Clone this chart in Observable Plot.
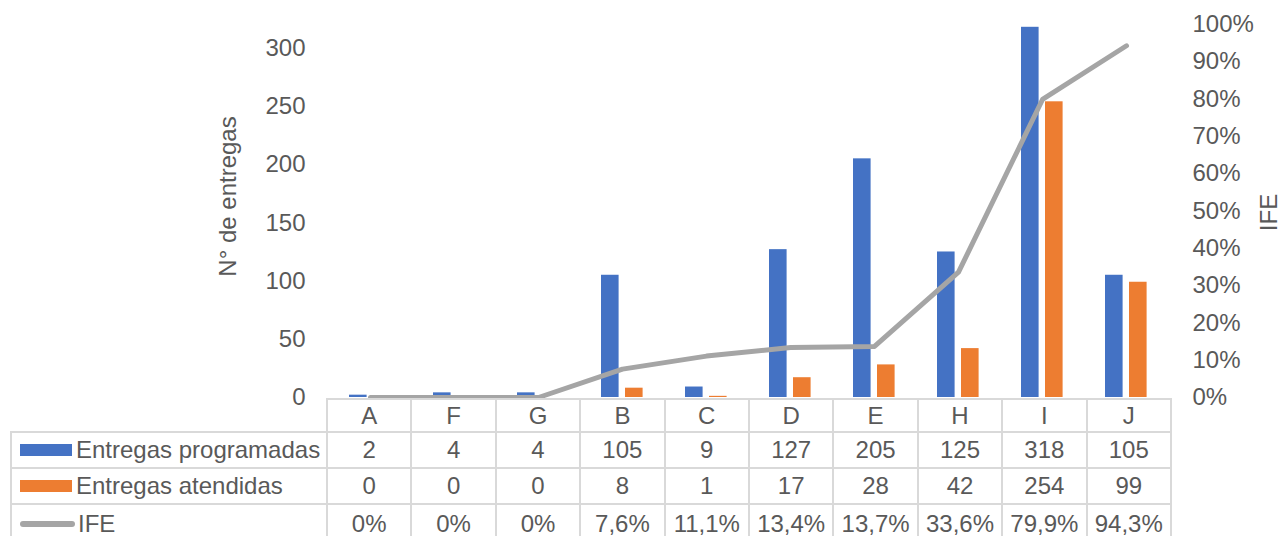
<!DOCTYPE html>
<html>
<head>
<meta charset="utf-8">
<script src="https://cdn.jsdelivr.net/npm/d3@7"></script>
<script src="https://cdn.jsdelivr.net/npm/@observablehq/plot@0.6"></script>
<style>
  body { margin: 0; background: #fff; font-family: "Liberation Sans", Arial, sans-serif; }
  #wrap { position: relative; width: 1287px; height: 536px; overflow: hidden; background: #fff; }
  #chart { position: absolute; left: 0; top: 0; }
  .cell { position: absolute; box-sizing: border-box; border-left: 2px solid #d9d9d9; border-top: 2px solid #d9d9d9;
          display: flex; align-items: center; justify-content: center; font-size: 24px; color: #595959; white-space: nowrap; }
  .cell.lab { justify-content: flex-start; padding-left: 8px; }
  .sw { display: inline-block; width: 52px; height: 12px; margin-right: 4px; }
  .swl { display: inline-block; width: 55px; height: 6px; border-radius: 3px; margin-right: 3px; }
</style>
</head>
<body>
<div id="wrap"><div id="chart"></div><div id="table"></div></div>
<script>
const categories = ["A", "F", "G", "B", "C", "D", "E", "H", "I", "J"];
const programadas = [2, 4, 4, 105, 9, 127, 205, 125, 318, 105];
const atendidas = [0, 0, 0, 8, 1, 17, 28, 42, 254, 99];
const ife = [0, 0, 0, 7.6, 11.1, 13.4, 13.7, 33.6, 79.9, 94.3];
const ifeLabels = ["0%", "0%", "0%", "7,6%", "11,1%", "13,4%", "13,7%", "33,6%", "79,9%", "94,3%"];
const leftTicks = [0, 50, 100, 150, 200, 250, 300];
const rightTicks = [0, 10, 20, 30, 40, 50, 60, 70, 80, 90, 100];
const seriesNames = ["Entregas programadas", "Entregas atendidas", "IFE"];
const colors = ["#4472c4", "#ed7d31", "#a5a5a5"];

const yMax = 320.4;
const k = yMax / 100;
const rows = categories.map((c, i) => ({c, p: programadas[i], a: atendidas[i], ife: ife[i]}));

const W = 1287, ML = 326, MR = 117;
const plot = Plot.plot({
  width: W, height: 420,
  marginLeft: ML, marginRight: MR, marginTop: 24, marginBottom: 23,
  style: {fontFamily: "'Liberation Sans', Arial, sans-serif", fontSize: "24px", color: "#595959", background: "transparent"},
  x: {domain: categories, padding: 0, axis: null},
  y: {domain: [0, yMax], axis: null},
  marks: [
    Plot.axisY({ticks: leftTicks, anchor: "left", tickSize: 0, tickPadding: 21, label: null, fontSize: 24}),
    Plot.axisY({ticks: rightTicks.map(t => t * k), anchor: "right", tickSize: 0, tickPadding: 22,
                tickFormat: d => Math.round(d / k) + "%", label: null, fontSize: 24}),
    Plot.barY(rows, {x: "c", y: "p", fill: colors[0], insetLeft: 21, insetRight: 45.4}),
    Plot.barY(rows, {x: "c", y: "a", fill: colors[1], insetLeft: 45, insetRight: 21.4}),
    Plot.line(rows, {x: "c", y: d => d.ife * k, stroke: colors[2], strokeWidth: 5,
                     strokeLinejoin: "round", strokeLinecap: "round"}),
    Plot.text(["N° de entregas"], {frameAnchor: "left", textAnchor: "middle", rotate: -90, dx: -98, dy: -14.5, fontSize: 24, fill: "#595959"}),
    Plot.text(["IFE"], {frameAnchor: "right", textAnchor: "middle", rotate: -90, dx: 99, dy: 1.5, fontSize: 24, fill: "#595959"})
  ]
});
document.getElementById("chart").appendChild(plot);

// data table below the chart
const tbl = document.getElementById("table");
const colW = (W - ML - MR) / categories.length;
const rowTops = [398, 431, 467, 503];
const rowHs = [33, 36, 36, 40];
const xLeft = 10;
function cell(x, y, w, h, html, cls, last) {
  const d = document.createElement("div");
  d.className = "cell" + (cls ? " " + cls : "");
  d.style.left = x + "px"; d.style.top = y + "px";
  d.style.width = (w + (last ? 2 : 0)) + "px"; d.style.height = h + "px";
  if (last) d.style.borderRight = "2px solid #d9d9d9";
  d.innerHTML = html;
  tbl.appendChild(d);
}
const bodyVals = [programadas.map(String), atendidas.map(String), ifeLabels];
for (let r = 0; r < 4; r++) {
  if (r > 0) {
    const s = r - 1;
    const sw = s < 2 ? `<span class="sw" style="background:${colors[s]}"></span>`
                     : `<span class="swl" style="background:${colors[s]}"></span>`;
    cell(xLeft, rowTops[r], ML - xLeft, rowHs[r], sw + seriesNames[s], "lab", false);
  }
  for (let j = 0; j < categories.length; j++) {
    const txt = r === 0 ? categories[j] : bodyVals[r - 1][j];
    cell(ML + j * colW, rowTops[r], colW, rowHs[r], txt, "", j === categories.length - 1);
  }
}
</script>
</body>
</html>
